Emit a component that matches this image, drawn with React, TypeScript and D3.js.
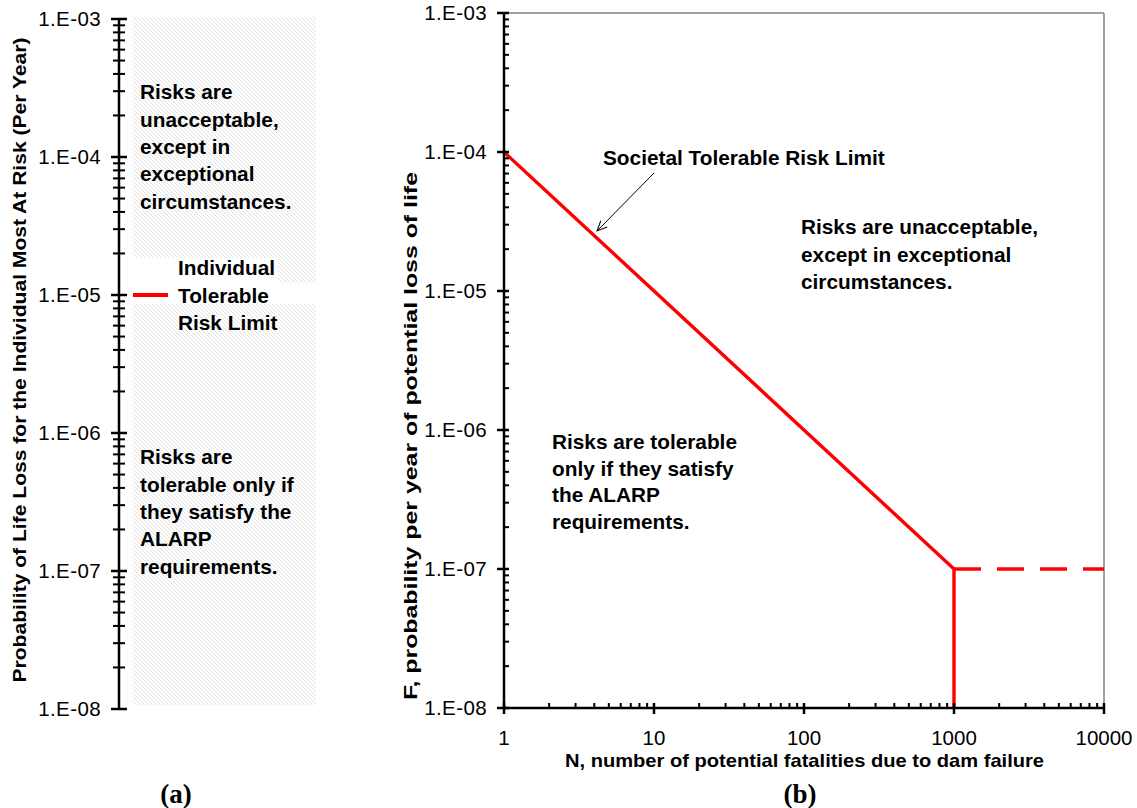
import React from 'react';
import * as d3 from 'd3';

// probability axis (both panels)
const probMajors = [1e-8, 1e-7, 1e-6, 1e-5, 1e-4, 1e-3];
const probLabels = ['1.E-08', '1.E-07', '1.E-06', '1.E-05', '1.E-04', '1.E-03'];
// fatalities axis (panel b)
const fatalMajors = [1, 10, 100, 1000, 10000];
const fatalLabels = ['1', '10', '100', '1000', '10000'];

// societal tolerable risk limit (solid part)
const limitN = [1, 1000, 1000];
const limitF = [1e-4, 1e-7, 1e-8];
// dashed continuation
const dashN = [1000, 10000];
const dashF = [1e-7, 1e-7];

// individual tolerable risk limit
const individualLimit = 1e-5;

const textUpper = ['Risks are', 'unacceptable,', 'except in', 'exceptional', 'circumstances.'];
const textLower = ['Risks are', 'tolerable only if', 'they satisfy the', 'ALARP', 'requirements.'];
const legendText = ['Individual', 'Tolerable', 'Risk Limit'];
const textUpperB = ['Risks are unacceptable,', 'except in exceptional', 'circumstances.'];
const textLowerB = ['Risks are tolerable', 'only if they satisfy', 'the ALARP', 'requirements.'];

const RED = '#ff0000';
const FONT = 'Arial, "Liberation Sans", sans-serif';
const SERIF = '"Liberation Serif", "Times New Roman", serif';

export default function App() {
  // panel (a)
  const yA = d3.scaleLog().domain([1e-8, 1e-3]).range([709, 19]);
  const axA = 119;
  // panel (b)
  const x = d3.scaleLog().domain([1, 1e4]).range([504, 1104]);
  const y = d3.scaleLog().domain([1e-8, 1e-3]).range([708, 13]);

  const isMajor = (v: number) => Math.abs(Math.log10(v) - Math.round(Math.log10(v))) < 1e-9;
  const minorA = yA.ticks().filter((v) => !isMajor(v));
  const minorY = y.ticks().filter((v) => !isMajor(v));
  const minorX = x.ticks().filter((v) => !isMajor(v));

  const limitPath = d3.line<number>()
    .x((d) => x(d))
    .y((_, i) => y(limitF[i]))(limitN) as string;
  const dashPath = d3.line<number>()
    .x((d) => x(d))
    .y((_, i) => y(dashF[i]))(dashN) as string;

  const lineH = 27.3;
  const tickFont = 20.5;

  return (
    <svg width={1137} height={808} style={{ position: 'absolute', left: 0, top: 0, background: '#fff' }}
      fontFamily={FONT}>
      <defs>
        <pattern id="hatch" width={4} height={4} patternUnits="userSpaceOnUse">
          <path d="M-1,-1 L5,5 M-1,3 L1,5 M3,-1 L5,1" stroke="#e2e2e2" strokeWidth={1} />
        </pattern>
        <marker id="arr" markerWidth={12} markerHeight={12} refX={11} refY={6} orient="auto"
          markerUnits="userSpaceOnUse">
          <path d="M1,1.5 L11,6 L1,10.5" fill="none" stroke="#000" strokeWidth={1} />
        </marker>
      </defs>

      {/* ---------- panel (a) ---------- */}
      <rect x={133} y={17} width={183} height={688} fill="url(#hatch)" />
      <rect x={133} y={258} width={145} height={46} fill="#fff" />
      <rect x={276} y={283} width={40} height={21} fill="#fff" />

      <line x1={axA} x2={axA} y1={yA(1e-3)} y2={yA(1e-8)} stroke="#000" strokeWidth={2.5} />
      {minorA.map((v) => (
        <line key={'ma' + v} x1={axA - 6} x2={axA + 6} y1={yA(v)} y2={yA(v)} stroke="#000" strokeWidth={2} />
      ))}
      {probMajors.map((v, i) => (
        <g key={'MA' + v}>
          <line x1={axA - 8} x2={axA + 8} y1={yA(v)} y2={yA(v)} stroke="#000" strokeWidth={2.5} />
          <text x={101} y={yA(v)} dy="0.36em" textAnchor="end" fontSize={tickFont} letterSpacing={0.4}>{probLabels[i]}</text>
        </g>
      ))}
      <line x1={133} x2={168} y1={yA(individualLimit)} y2={yA(individualLimit)} stroke={RED} strokeWidth={4} />

      <g fontWeight="bold" fontSize={20.8} fill="#000">
        {textUpper.map((t, i) => (
          <text key={'tu' + i} x={140} y={92 + i * lineH} dy="0.36em">{t}</text>
        ))}
        {legendText.map((t, i) => (
          <text key={'lg' + i} x={178} y={268 + i * lineH} dy="0.36em">{t}</text>
        ))}
        {textLower.map((t, i) => (
          <text key={'tl' + i} x={140} y={457 + i * lineH} dy="0.36em">{t}</text>
        ))}
      </g>
      <text transform="translate(19,360) rotate(-90)" textAnchor="middle" dy="0.36em"
        fontWeight="bold" fontSize={19} textLength={645} lengthAdjust="spacingAndGlyphs">
        Probability of Life Loss for the Individual Most At Risk (Per Year)
      </text>
      <text x={176} y={793} dy="0.36em" textAnchor="middle" fontFamily={SERIF}
        fontWeight="bold" fontSize={27}>(a)</text>

      {/* ---------- panel (b) ---------- */}
      <line x1={x(1)} x2={x(1e4)} y1={y(1e-3)} y2={y(1e-3)} stroke="#808080" strokeWidth={1.5} />
      <line x1={x(1e4)} x2={x(1e4)} y1={y(1e-3)} y2={y(1e-8)} stroke="#808080" strokeWidth={1.5} />

      <path d={limitPath} fill="none" stroke={RED} strokeWidth={3.4} strokeLinejoin="miter" />
      <path d={dashPath} fill="none" stroke={RED} strokeWidth={3.4} strokeDasharray="27 16" />

      {/* y axis */}
      <line x1={x(1)} x2={x(1)} y1={y(1e-3)} y2={y(1e-8)} stroke="#000" strokeWidth={2.5} />
      {minorY.map((v) => (
        <line key={'my' + v} x1={x(1)} x2={x(1) + 5} y1={y(v)} y2={y(v)} stroke="#000" strokeWidth={2} />
      ))}
      {probMajors.map((v, i) => (
        <g key={'MY' + v}>
          <line x1={x(1) - 7} x2={x(1) + 5} y1={y(v)} y2={y(v)} stroke="#000" strokeWidth={2.5} />
          <text x={487} y={y(v)} dy="0.36em" textAnchor="end" fontSize={tickFont} letterSpacing={0.4}>{probLabels[i]}</text>
        </g>
      ))}

      {/* x axis */}
      <line x1={x(1)} x2={x(1e4)} y1={y(1e-8)} y2={y(1e-8)} stroke="#000" strokeWidth={2.5} />
      {minorX.map((v) => (
        <line key={'mx' + v} x1={x(v)} x2={x(v)} y1={y(1e-8) - 5} y2={y(1e-8)} stroke="#000" strokeWidth={2} />
      ))}
      {fatalMajors.map((v, i) => (
        <g key={'MX' + v}>
          <line x1={x(v)} x2={x(v)} y1={y(1e-8) - 5} y2={y(1e-8) + 6} stroke="#000" strokeWidth={2.5} />
          <text x={x(v)} y={738} dy="0.36em" textAnchor="middle" fontSize={tickFont}>{fatalLabels[i]}</text>
        </g>
      ))}

      <g fontWeight="bold" fontSize={20.8} fill="#000">
        <text x={603} y={158} dy="0.36em">Societal Tolerable Risk Limit</text>
        {textUpperB.map((t, i) => (
          <text key={'ub' + i} x={801} y={227 + i * lineH} dy="0.36em">{t}</text>
        ))}
        {textLowerB.map((t, i) => (
          <text key={'lb' + i} x={552} y={442 + i * 26.5} dy="0.36em">{t}</text>
        ))}
      </g>
      <line x1={654} y1={173} x2={597} y2={231} stroke="#000" strokeWidth={1} markerEnd="url(#arr)" />

      <text transform="translate(410,436) rotate(-90)" textAnchor="middle" dy="0.36em"
        fontWeight="bold" fontSize={19} textLength={528} lengthAdjust="spacingAndGlyphs">
        F, probability per year of potential loss of life
      </text>
      <text x={804.5} y={760} dy="0.36em" textAnchor="middle" fontWeight="bold" fontSize={19}
        textLength={479} lengthAdjust="spacingAndGlyphs">
        N, number of potential fatalities due to dam failure
      </text>
      <text x={800} y={793} dy="0.36em" textAnchor="middle" fontFamily={SERIF}
        fontWeight="bold" fontSize={27}>(b)</text>
    </svg>
  );
}
